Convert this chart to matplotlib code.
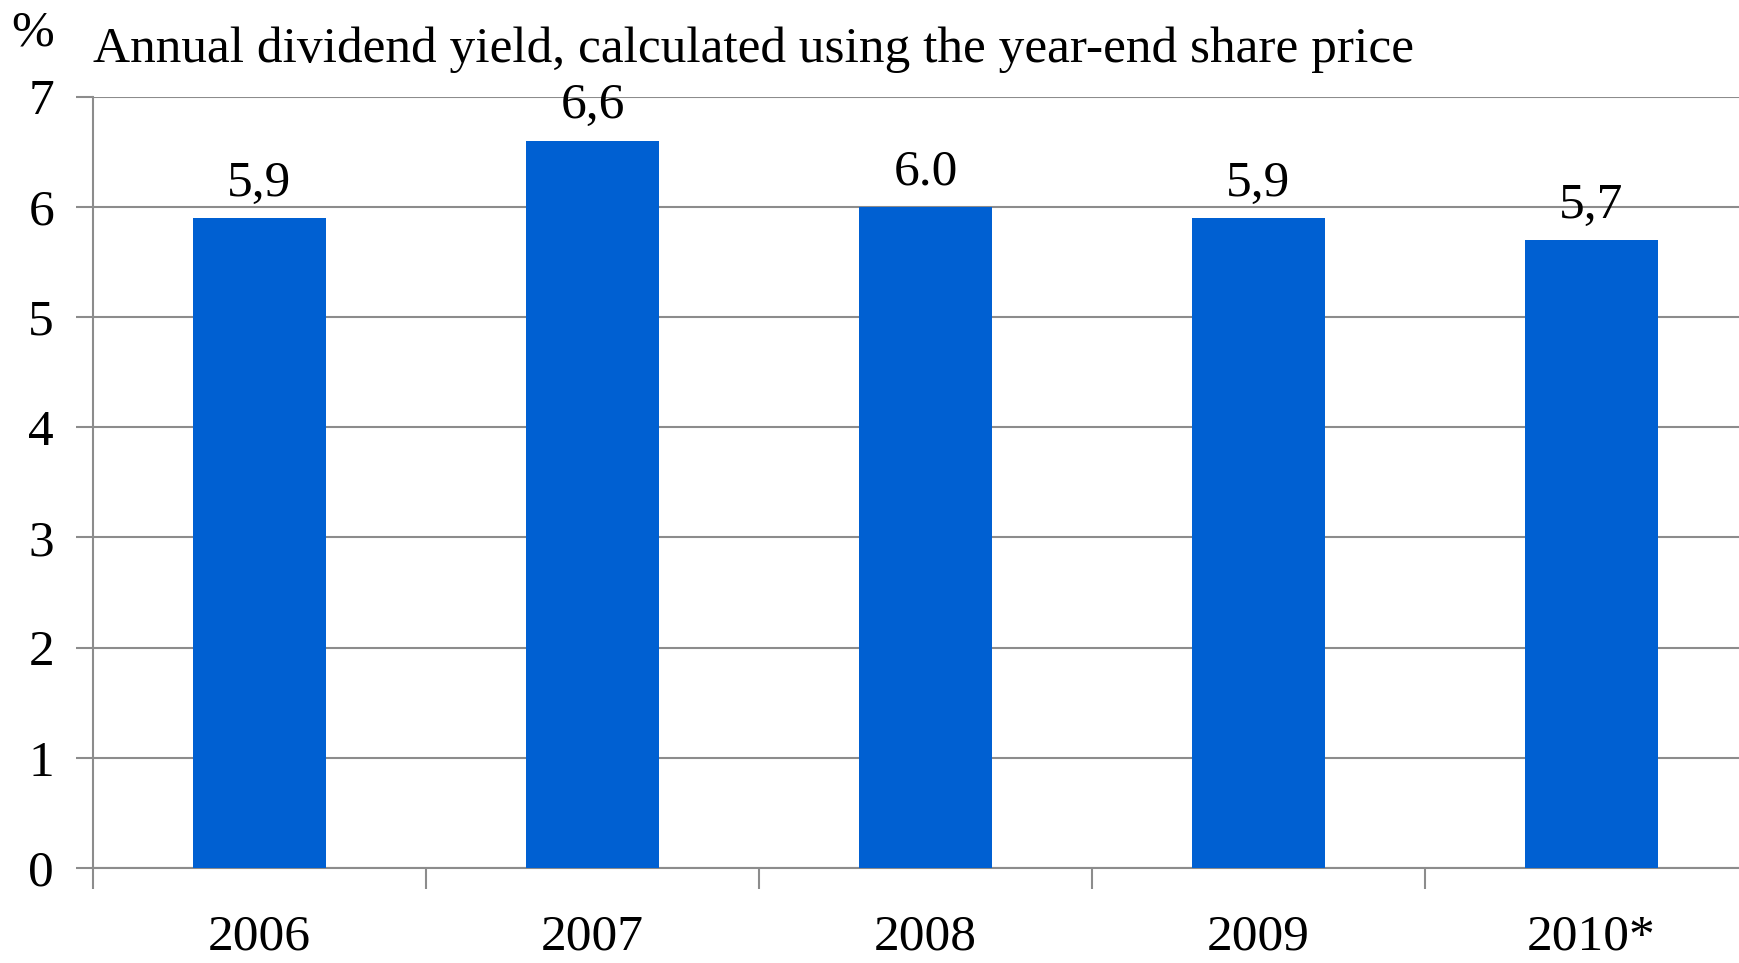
import matplotlib
matplotlib.use("Agg")
import matplotlib.pyplot as plt

years = ["2006", "2007", "2008", "2009", "2010*"]
values = [5.9, 6.6, 6.0, 5.9, 5.7]
value_labels = ["5,9", "6,6", "6.0", "5,9", "5,7"]
yticks = [0, 1, 2, 3, 4, 5, 6, 7]

plt.rcParams['font.family'] = ['Liberation Serif', 'DejaVu Serif']
FS = 37

fig = plt.figure(figsize=(17.4, 9.63), dpi=100)
ax = fig.add_axes([93/1740, 1 - 868/963, 1665/1740, (868 - 96.5)/963])

bar_color = '#0060d2'
grid_color = '#8c8c8c'
x = list(range(len(years)))
ax.bar(x, values, width=0.4, color=bar_color, zorder=3)

for xi, v, lab in zip(x, values, value_labels):
    ax.annotate(lab, (xi, v), xytext=(0, 16), textcoords='offset points',
                ha='center', va='baseline', fontsize=FS, color='black', zorder=4)

ax.set_xlim(-0.5, 4.5)
ax.set_ylim(0, 7)
ax.set_yticks(yticks)
ax.set_yticklabels([str(t) for t in yticks], fontsize=FS)
ax.set_xticks(x)
ax.set_xticklabels(years, fontsize=FS)
ax.set_xticks([i - 0.5 for i in range(len(years) + 1)], minor=True)

ax.tick_params(axis='x', which='major', length=0, pad=33)
ax.tick_params(axis='x', which='minor', length=15, width=1.5, color=grid_color, direction='out')
ax.tick_params(axis='y', which='major', length=12, width=1.5, color=grid_color, direction='out', pad=16)

ax.grid(axis='y', color=grid_color, linewidth=1.5, zorder=0)
for s in ['top', 'right']:
    ax.spines[s].set_visible(False)
for s in ['left', 'bottom']:
    ax.spines[s].set_color(grid_color)
    ax.spines[s].set_linewidth(1.5)

fig.text(93/1740, 1 - 50/963, "Annual dividend yield, calculated using the year-end share price",
         fontsize=FS, ha='left', va='center')
fig.text(33/1740, 1 - 33/963, "%", fontsize=FS, ha='center', va='center')

fig.savefig("out.png", dpi=100)
